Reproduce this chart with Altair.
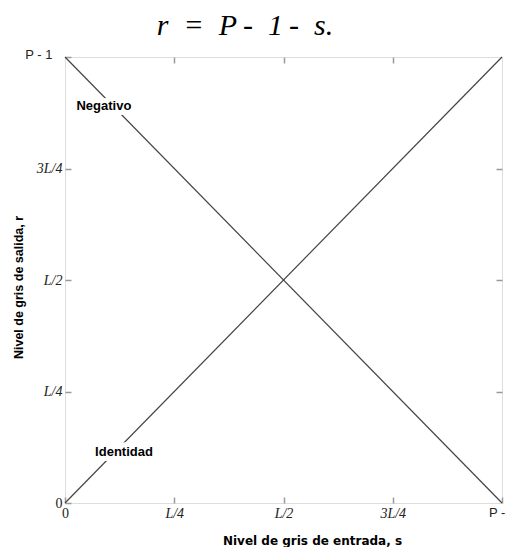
import altair as alt
import pandas as pd

# Grey-level transformations: identity and negative
s_vals = [0.0, 1.0]
identidad = [0.0, 1.0]
negativo = [1.0, 0.0]

tick_vals = [0, 0.25, 0.5, 0.75, 1]
tick_labels = ["0", "L/4", "L/2", "3L/4", "P - 1"]
inner_ticks = [0.25, 0.5, 0.75]

label_text = ["Negativo", "Identidad"]
label_s = [0.089, 0.135]
label_r = [0.89, 0.114]

formula = "r\u2002=\u2002P\u2009-\u20021\u2009-\u2002s."

lines = pd.DataFrame(
    {
        "s": s_vals * 2,
        "r": identidad + negativo,
        "serie": ["Identidad"] * 2 + ["Negativo"] * 2,
    }
)
labels = pd.DataFrame({"s": label_s, "r": label_r, "txt": label_text})
heading = pd.DataFrame({"txt": [formula]})

grey = "#9a9a9a"
ink = "#444444"

vals_js = "[" + ",".join(str(v) for v in tick_vals) + "]"
labs_js = "[" + ",".join("'" + t + "'" for t in tick_labels) + "]"
label_expr = f"{labs_js}[indexof({vals_js}, datum.value)]"

is_plain = "datum.value == 0 || datum.value == 1"
is_p = "datum.value == 1"

x_bottom = alt.Axis(
    values=tick_vals,
    labelExpr=label_expr,
    orient="bottom",
    domain=False,
    offset=-6,
    tickSize=6,
    tickColor=grey,
    tickWidth=1.5,
    labelPadding=3,
    labelFlush=False,
    labelFontSize={"condition": {"test": is_p, "value": 13}, "value": 14},
    labelFont={"condition": {"test": is_p, "value": "Liberation Sans"}, "value": "Liberation Serif"},
    labelFontStyle={"condition": {"test": is_plain, "value": "normal"}, "value": "italic"},
    labelColor="#222222",
    grid=False,
    title="Nivel de gris de entrada, s",
    titleFont="DejaVu Sans",
    titleFontSize=12,
    titleFontWeight="bold",
    titleColor="black",
    titleX=247,
    titleY=43,
    titleBaseline="middle",
)

y_left = alt.Axis(
    values=tick_vals,
    labelExpr=label_expr,
    orient="left",
    domain=False,
    offset=-6,
    tickSize=6,
    tickColor=grey,
    tickWidth=1.5,
    labelPadding={"condition": {"test": is_p, "value": 13}, "value": 3},
    labelFlush=False,
    labelFontSize={"condition": {"test": is_p, "value": 13}, "value": 14},
    labelFont={"condition": {"test": is_p, "value": "Liberation Sans"}, "value": "Liberation Serif"},
    labelFontStyle={"condition": {"test": is_plain, "value": "normal"}, "value": "italic"},
    labelOffset={"condition": {"test": is_p, "value": -3}, "value": 0},
    labelColor="#222222",
    grid=False,
    title="Nivel de gris de salida, r",
    titleFont="Liberation Sans",
    titleFontSize=12.5,
    titleFontWeight="bold",
    titleColor="black",
    titleX=-53,
    titleY=230,
    titleBaseline="middle",
)

x_top = alt.Axis(
    values=inner_ticks, orient="top", labels=False, domain=False, offset=-6,
    tickSize=6, tickColor=grey, tickWidth=1.5, grid=False, title=None,
)
y_right = alt.Axis(
    values=inner_ticks, orient="right", labels=False, domain=False, offset=-6,
    tickSize=6, tickColor=grey, tickWidth=1.5, grid=False, title=None,
)

x_scale = alt.Scale(domain=[0, 1], nice=False, zero=False)
y_scale = alt.Scale(domain=[0, 1], nice=False, zero=False)

curves = (
    alt.Chart(lines)
    .mark_line(color=ink, strokeWidth=1.2)
    .encode(
        x=alt.X("s:Q", scale=x_scale, axis=x_bottom),
        y=alt.Y("r:Q", scale=y_scale, axis=y_left),
        detail="serie:N",
    )
)

frame_ticks = (
    alt.Chart(lines)
    .mark_line(opacity=0)
    .encode(
        x=alt.X("s:Q", scale=x_scale, axis=x_top),
        y=alt.Y("r:Q", scale=y_scale, axis=y_right),
        detail="serie:N",
    )
)

halo = (
    alt.Chart(labels)
    .mark_text(font="Liberation Sans", fontSize=13, fontWeight="bold",
               stroke="white", strokeWidth=10, strokeJoin="round", fill="white")
    .encode(
        x=alt.X("s:Q", scale=x_scale, axis=None),
        y=alt.Y("r:Q", scale=y_scale, axis=None),
        text="txt:N",
    )
)

names = (
    alt.Chart(labels)
    .mark_text(font="Liberation Sans", fontSize=13, fontWeight="bold", color="black")
    .encode(
        x=alt.X("s:Q", scale=x_scale, axis=None),
        y=alt.Y("r:Q", scale=y_scale, axis=None),
        text="txt:N",
    )
)

# Formula heading above the plot
title_text = (
    alt.Chart(heading)
    .mark_text(font="Liberation Serif", fontStyle="italic", fontSize=30,
               color="black", align="center", baseline="alphabetic")
    .encode(x=alt.value(180), y=alt.value(-22), text="txt:N")
)

chart = (
    alt.layer(curves, frame_ticks, halo, names, title_text)
    .resolve_axis(x="independent", y="independent")
    .properties(
        width=437,
        height=446,
        autosize=alt.AutoSizeParams(type="none"),
        padding={"left": 65, "top": 57, "right": 5, "bottom": 44},
    )
    .configure_view(stroke=grey, strokeWidth=2)
    .configure(background="white")
)

chart.save("out.html", embed_options={"renderer": "svg", "actions": False})
